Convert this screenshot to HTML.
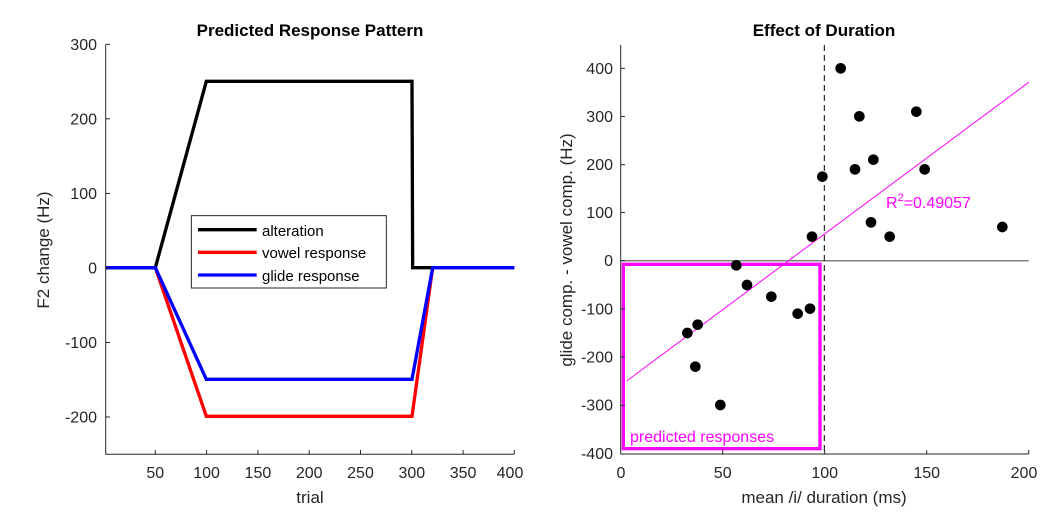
<!DOCTYPE html>
<html><head><style>body{margin:0;background:#fff}svg{display:block;font-family:"Liberation Sans",sans-serif}</style></head><body>
<svg width="1050" height="525" viewBox="0 0 1050 525">
<rect width="1050" height="525" fill="#fff"/>
<!-- LEFT -->
<text x="310" y="36" font-size="17" font-weight="bold" text-anchor="middle">Predicted Response Pattern</text>
<g transform="translate(40,30) scale(0.33333)" fill="none" stroke-linejoin="miter">
<polyline points="197,713 346,713 499,154 1116,154 1118,713 1178,713" stroke="#000" stroke-width="10"/>
<polyline points="346,713 499,1159 1116,1159 1178,713 1423,713" stroke="#f00" stroke-width="10"/>
<polyline points="197,713 346,713 499,1048 1116,1048 1178,713 1423,713" stroke="#00f" stroke-width="10"/>
<rect x="454" y="557" width="585" height="217" fill="#fff" stroke="#262626" stroke-width="3"/>
<line x1="474" y1="599" x2="650" y2="599" stroke="#000" stroke-width="10"/>
<line x1="474" y1="667" x2="650" y2="667" stroke="#f00" stroke-width="10"/>
<line x1="474" y1="735" x2="650" y2="735" stroke="#00f" stroke-width="10"/>
</g>
<g font-size="15" fill="#000">
<text x="262" y="236">alteration</text>
<text x="262" y="258">vowel response</text>
<text x="262" y="281">glide response</text>
</g>
<g stroke="#262626" stroke-width="1" fill="none">
<polyline points="105.7,44.3 105.7,454.3 514.3,454.3"/>
</g>
<g stroke="#262626" stroke-width="1">
<line x1="155.3" y1="454" x2="155.3" y2="450"/><line x1="206.6" y1="454" x2="206.6" y2="450"/><line x1="257.9" y1="454" x2="257.9" y2="450"/><line x1="309.2" y1="454" x2="309.2" y2="450"/><line x1="360.5" y1="454" x2="360.5" y2="450"/><line x1="411.8" y1="454" x2="411.8" y2="450"/><line x1="463.1" y1="454" x2="463.1" y2="450"/><line x1="514.3" y1="454" x2="514.3" y2="450"/>
<line x1="106" y1="44.3" x2="110" y2="44.3"/><line x1="106" y1="118.8" x2="110" y2="118.8"/><line x1="106" y1="193.4" x2="110" y2="193.4"/><line x1="106" y1="268" x2="110" y2="268"/><line x1="106" y1="342.5" x2="110" y2="342.5"/><line x1="106" y1="417" x2="110" y2="417"/>
</g>
<g font-size="16" fill="#262626" text-anchor="middle">
<text x="155.3" y="478">50</text><text x="206.6" y="478">100</text><text x="257.9" y="478">150</text><text x="309.2" y="478">200</text><text x="360.5" y="478">250</text><text x="411.8" y="478">300</text><text x="463.1" y="478">350</text><text x="510" y="478">400</text>
</g>
<g font-size="16" fill="#262626" text-anchor="end">
<text x="97" y="50">300</text><text x="97" y="124.5">200</text><text x="97" y="199">100</text><text x="97" y="273.5">0</text><text x="97" y="348">-100</text><text x="97" y="422.5">-200</text>
</g>
<text x="310" y="503" font-size="17" fill="#262626" text-anchor="middle">trial</text>
<text transform="translate(49,250) rotate(-90)" font-size="17" fill="#262626" text-anchor="middle">F2 change (Hz)</text>

<!-- RIGHT -->
<text x="824" y="36" font-size="17" font-weight="bold" text-anchor="middle">Effect of Duration</text>
<line x1="620.7" y1="260.7" x2="1028.7" y2="260.7" stroke="#808080" stroke-width="1.5"/>
<line x1="824.3" y1="45" x2="824.3" y2="454" stroke="#000" stroke-width="1" stroke-dasharray="6,4"/>
<g transform="translate(560,30) scale(0.33333)">
<line x1="200" y1="1053" x2="1406" y2="157" stroke="#f0f" stroke-width="3"/>
<rect x="190" y="703" width="590" height="553" fill="none" stroke="#f0f" stroke-width="10"/>
<g fill="#000">
<circle cx="842" cy="115" r="16"/><circle cx="898" cy="259" r="16"/><circle cx="1069" cy="245" r="16"/><circle cx="885" cy="418" r="16"/><circle cx="940" cy="389" r="16"/><circle cx="1094" cy="418" r="16"/><circle cx="787" cy="440" r="16"/><circle cx="933" cy="577" r="16"/><circle cx="989" cy="620" r="16"/><circle cx="1327" cy="591" r="16"/><circle cx="756" cy="620" r="16"/><circle cx="529" cy="706" r="16"/><circle cx="561" cy="765" r="16"/><circle cx="634" cy="800" r="16"/><circle cx="713" cy="851" r="16"/><circle cx="750" cy="836" r="16"/><circle cx="382" cy="909" r="16"/><circle cx="413" cy="884" r="16"/><circle cx="406" cy="1010" r="16"/><circle cx="481" cy="1125" r="16"/>
</g>
</g>
<text x="630" y="442" font-size="16" fill="#f0f">predicted responses</text>
<text x="886" y="208" font-size="16" fill="#f0f">R<tspan dy="-7" font-size="11">2</tspan><tspan dy="7">=0.49057</tspan></text>
<polyline points="620.7,45 620.7,454 1028.7,454" fill="none" stroke="#262626" stroke-width="1"/>
<g stroke="#262626" stroke-width="1">
<line x1="722.7" y1="454" x2="722.7" y2="450"/><line x1="824.7" y1="454" x2="824.7" y2="450"/><line x1="926.7" y1="454" x2="926.7" y2="450"/><line x1="1028.7" y1="454" x2="1028.7" y2="450"/>
<line x1="621" y1="68.3" x2="625" y2="68.3"/><line x1="621" y1="116.5" x2="625" y2="116.5"/><line x1="621" y1="164.7" x2="625" y2="164.7"/><line x1="621" y1="212.5" x2="625" y2="212.5"/><line x1="621" y1="260.7" x2="625" y2="260.7"/><line x1="621" y1="308.9" x2="625" y2="308.9"/><line x1="621" y1="357.1" x2="625" y2="357.1"/><line x1="621" y1="405.3" x2="625" y2="405.3"/>
</g>
<g font-size="16" fill="#262626" text-anchor="middle">
<text x="621" y="478">0</text><text x="722.7" y="478">50</text><text x="824.7" y="478">100</text><text x="926.7" y="478">150</text><text x="1024" y="478">200</text>
</g>
<g font-size="16" fill="#262626" text-anchor="end">
<text x="613" y="74">400</text><text x="613" y="122">300</text><text x="613" y="170">200</text><text x="613" y="218">100</text><text x="613" y="266">0</text><text x="613" y="314.5">-100</text><text x="613" y="362.5">-200</text><text x="613" y="410.5">-300</text><text x="613" y="459">-400</text>
</g>
<text x="824" y="503" font-size="17" fill="#262626" text-anchor="middle">mean /i/ duration (ms)</text>
<text transform="translate(572,250) rotate(-90)" font-size="17" fill="#262626" text-anchor="middle">glide comp. - vowel comp. (Hz)</text>
</svg>
</body></html>
